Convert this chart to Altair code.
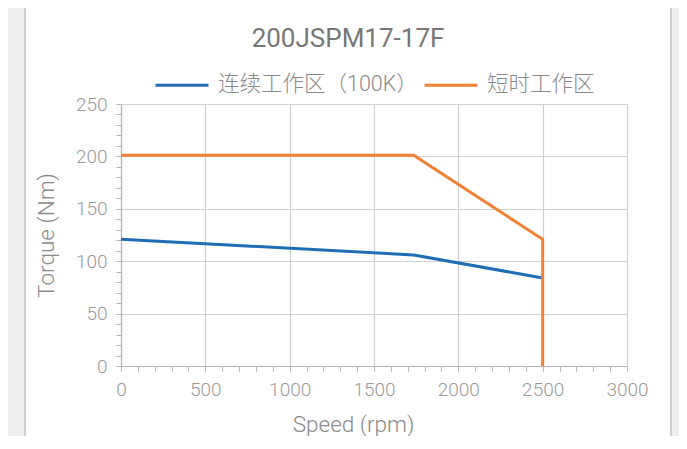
import altair as alt
import pandas as pd

# ---- data ----
series_names = ["连续工作区（100K）", "短时工作区"]
speed_cont = [0, 1735, 2500]
torque_cont = [121, 106, 84]
speed_short = [0, 1735, 2500, 2500]
torque_short = [201, 201, 121, 0]
x_ticks = [0, 500, 1000, 1500, 2000, 2500, 3000]
y_ticks = [0, 50, 100, 150, 200, 250]
x_minor = list(range(0, 3001, 100))
y_minor = list(range(0, 251, 10))
colors = ["#1f6db5", "#f08135"]

rows = []
for i, (s, t) in enumerate(zip(speed_cont, torque_cont)):
    rows.append({"series": series_names[0], "speed": s, "torque": t, "idx": i})
for i, (s, t) in enumerate(zip(speed_short, torque_short)):
    rows.append({"series": series_names[1], "speed": s, "torque": t, "idx": i})
df = pd.DataFrame(rows)

FONT = "Roboto, 'Noto Sans CJK SC', sans-serif"
W, H = 506, 262
GRAY_BG = "#eeeeee"
BORDER = "#c4c4c4"

xscale = alt.Scale(domain=[0, 3000], nice=False, zero=False)
yscale = alt.Scale(domain=[0, 250], nice=False, zero=False)

one = pd.DataFrame({"a": [0]})
# decorative page frame (gray strips outside the white panel)
left_strip = alt.Chart(one).mark_rect(fill=GRAY_BG).encode(
    x=alt.value(-113), x2=alt.value(-96), y=alt.value(-96), y2=alt.value(345))
right_strip = alt.Chart(one).mark_rect(fill=GRAY_BG).encode(
    x=alt.value(550), x2=alt.value(560), y=alt.value(-96), y2=alt.value(345))
left_border = alt.Chart(one).mark_rule(color=BORDER, strokeWidth=1.5).encode(
    x=alt.value(-96), y=alt.value(-96), y2=alt.value(345))
right_border = alt.Chart(one).mark_rule(color=BORDER, strokeWidth=1.5).encode(
    x=alt.value(550), y=alt.value(-96), y2=alt.value(345))

lines = alt.Chart(df).mark_line(strokeWidth=3).encode(
    x=alt.X("speed:Q", scale=xscale,
            axis=alt.Axis(values=x_ticks, grid=True, ticks=False, domain=False,
                          format="d", labelFlush=False,
                          gridColor="#d0d0d0", gridWidth=1.2,
                          labelFontSize=19, labelColor="#9a9a9a", labelFont=FONT,
                          labelPadding=14, labelFontWeight=300,
                          title="Speed (rpm)", titleFontSize=22.5, titleColor="#8a8a8a",
                          titleFont=FONT, titleFontWeight=300,
                          titleX=232, titleY=58, titleBaseline="middle")),
    y=alt.Y("torque:Q", scale=yscale,
            axis=alt.Axis(values=y_ticks, grid=True, ticks=False, domain=False,
                          format="d", labelFlush=False,
                          gridColor="#d0d0d0", gridWidth=1.2,
                          labelFontSize=19, labelColor="#9a9a9a", labelFont=FONT,
                          labelPadding=14, labelFontWeight=300,
                          title="Torque (Nm)", titleFontSize=22.5, titleColor="#8a8a8a",
                          titleFont=FONT, titleFontWeight=300,
                          titleX=-75, titleY=131, titleBaseline="middle", titleAngle=270)),
    color=alt.Color("series:N",
                    scale=alt.Scale(domain=series_names, range=colors),
                    legend=alt.Legend(title=None, orient="none", legendX=33, legendY=-47,
                                      direction="horizontal", symbolType="stroke",
                                      symbolSize=2800, symbolStrokeWidth=3,
                                      labelFontSize=21.5, labelColor="#8a8a8a", labelFont=FONT,
                                      labelFontWeight=300, labelOffset=8, columnPadding=0,
                                      labelLimit=400)),
    order="idx:Q",
)

minor = alt.Chart(df).mark_point(opacity=0).encode(
    x=alt.X("speed:Q", scale=xscale,
            axis=alt.Axis(values=x_minor, orient="bottom", grid=False, labels=False,
                          ticks=True, tickSize=5, tickColor="#b5b5b5", tickWidth=1,
                          domain=True, domainColor="#b5b5b5", domainWidth=1.2, title=None)),
    y=alt.Y("torque:Q", scale=yscale,
            axis=alt.Axis(values=y_minor, orient="left", grid=False, labels=False,
                          ticks=True, tickSize=5, tickColor="#b5b5b5", tickWidth=1,
                          domain=True, domainColor="#b5b5b5", domainWidth=1.2, title=None)),
)

chart = alt.layer(left_strip, right_strip, left_border, right_border, lines, minor).resolve_axis(
    x="independent", y="independent"
).properties(
    width=W, height=H,
    title=alt.TitleParams("200JSPM17-17F", fontSize=26, color="#777777", font=FONT,
                          fontWeight=400, baseline="middle", offset=-58,
                          anchor="middle", frame="group", dx=-26),
    autosize=alt.AutoSizeParams(type="none"),
    padding={"left": 113, "top": 96, "right": 52, "bottom": 70},
    background="white",
).configure_view(stroke=None)

chart.save("out.html", embed_options={"renderer": "svg", "actions": False})
